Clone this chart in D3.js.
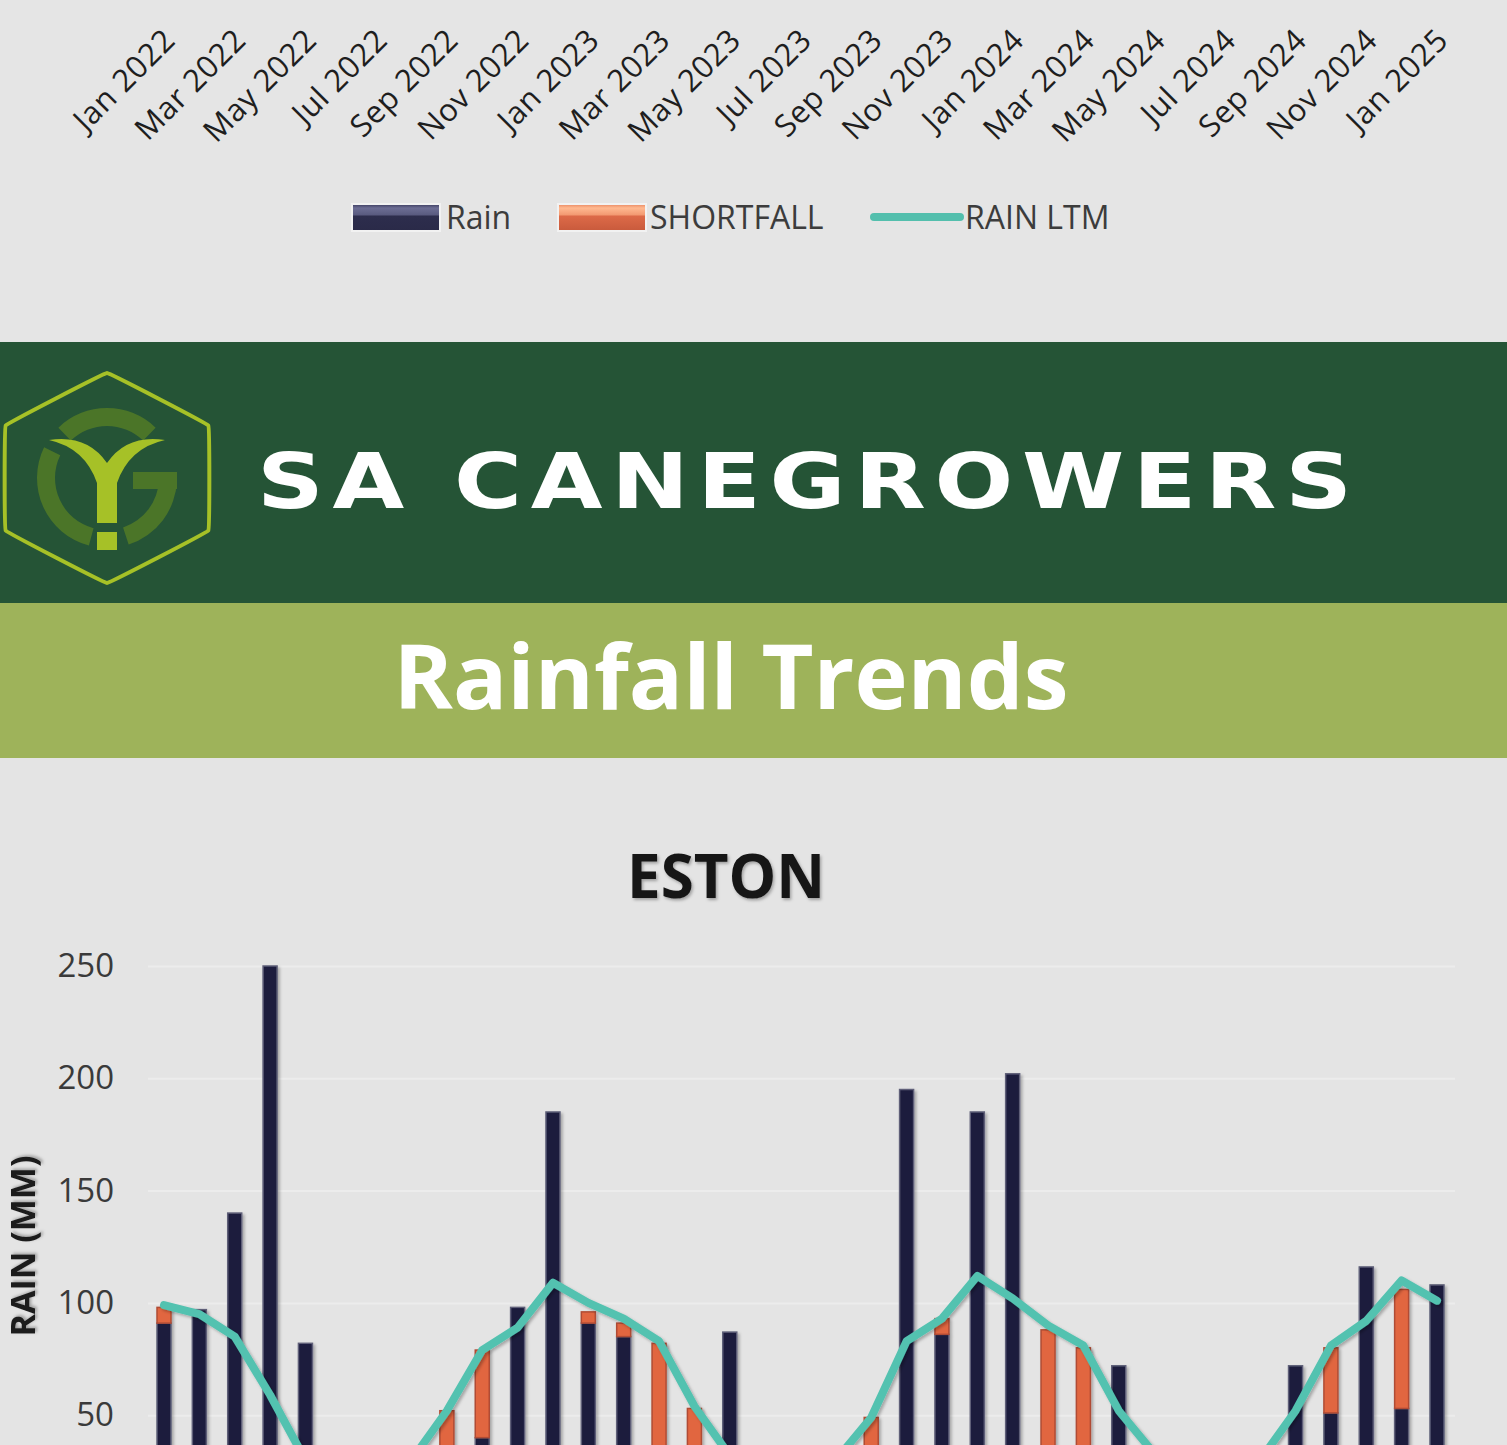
<!DOCTYPE html>
<html>
<head>
<meta charset="utf-8">
<script src="https://cdn.jsdelivr.net/npm/d3@7"></script>
<style>
    html, body { margin: 0; padding: 0; background: #e5e5e5; overflow: hidden; }
    svg { display: block; }
</style>
</head>
<body>
<div id="page"></div>
<script>
const months = [
    "Jan 2022", "Feb 2022", "Mar 2022", "Apr 2022", "May 2022", "Jun 2022", "Jul 2022", "Aug 2022", "Sep 2022", "Oct 2022", "Nov 2022", "Dec 2022",
    "Jan 2023", "Feb 2023", "Mar 2023", "Apr 2023", "May 2023", "Jun 2023", "Jul 2023", "Aug 2023", "Sep 2023", "Oct 2023", "Nov 2023", "Dec 2023",
    "Jan 2024", "Feb 2024", "Mar 2024", "Apr 2024", "May 2024", "Jun 2024", "Jul 2024", "Aug 2024", "Sep 2024", "Oct 2024", "Nov 2024", "Dec 2024",
    "Jan 2025"
];
const rain = [
    91, 97, 140, 250, 82, 18, 12, 26, 30, 40, 98, 185,
    91, 85, 30, 22, 87, 15, 20, 28, 25, 195, 86, 185,
    202, 35, 30, 72, 20, 10, 14, 24, 72, 51, 116, 53,
    108
];
const shortfall = [
    7, 0, 0, 0, 0, 0, 8, 4, 22, 39, 0, 0,
    5, 6, 52, 31, 0, 3, 0, 2, 24, 0, 7, 0,
    0, 53, 50, 0, 13, 8, 6, 6, 0, 29, 0, 53,
    0
];
const rainLtm = [
    99, 95, 85, 59, 30, 18, 20, 30, 52, 79, 89, 109,
    100, 93, 83, 54, 32, 18, 20, 30, 49, 83, 93, 112,
    102, 90, 81, 52, 33, 18, 20, 30, 52, 81, 92, 110,
    101
];
const topTickLabels = [
    "Jan 2022", "Mar 2022", "May 2022", "Jul 2022", "Sep 2022", "Nov 2022",
    "Jan 2023", "Mar 2023", "May 2023", "Jul 2023", "Sep 2023", "Nov 2023",
    "Jan 2024", "Mar 2024", "May 2024", "Jul 2024", "Sep 2024", "Nov 2024",
    "Jan 2025"
];
const yTicks = [50, 100, 150, 200, 250];
const legendItems = ["Rain", "SHORTFALL", "RAIN LTM"];

const width = 1507;
const height = 1445;

const svg = d3.select("#page")
    .append("svg")
    .attr("width", width)
    .attr("height", height)
    .attr("viewBox", `0 0 ${width} ${height}`);

const defs = svg.append("defs");

const shadow = defs.append("filter").attr("id", "shadow")
    .attr("x", "-50%").attr("y", "-10%").attr("width", "200%").attr("height", "130%");
shadow.append("feDropShadow")
    .attr("dx", 2).attr("dy", 2).attr("stdDeviation", 1.8)
    .attr("flood-color", "#000").attr("flood-opacity", 0.28);

const textShadow = defs.append("filter").attr("id", "textshadow");
textShadow.append("feDropShadow")
    .attr("dx", 1.5).attr("dy", 2).attr("stdDeviation", 1.5)
    .attr("flood-color", "#000").attr("flood-opacity", 0.3);

function bevel(id, stops) {
    const g = defs.append("linearGradient").attr("id", id)
        .attr("x1", 0).attr("y1", 0).attr("x2", 0).attr("y2", 1);
    stops.forEach(([o, c]) => g.append("stop").attr("offset", o).attr("stop-color", c));
}
bevel("rainGrad", [[0, "#3a3a5c"], [0.15, "#6c6d94"], [0.4, "#5a5b80"], [0.45, "#2d2d4d"], [1, "#2a2a48"]]);
bevel("shortGrad", [[0, "#e88660"], [0.15, "#ffb990"], [0.4, "#f39a72"], [0.45, "#dd6a48"], [1, "#c85a3c"]]);

// same horizontal scale for the cropped chart above and the ESTON chart
const x = d3.scalePoint()
    .domain(months)
    .range([164, 1437]);

// ---------- top strip: tail of the previous chart ----------
svg.append("rect")
    .attr("x", 0).attr("y", 0).attr("width", width).attr("height", 342)
    .attr("fill", "#e5e5e5");

svg.append("g")
    .selectAll("text")
    .data(topTickLabels)
    .join("text")
    .attr("transform", d => `translate(${x(d) + 13},${42}) rotate(-45)`)
    .attr("text-anchor", "end")
    .attr("font-family", "'Open Sans', sans-serif")
    .attr("font-size", 31)
    .attr("letter-spacing", 0.6)
    .attr("fill", "#1e1e1e")
    .text(d => d);

const legend = svg.append("g")
    .attr("font-family", "'Open Sans', sans-serif")
    .attr("font-size", 32)
    .attr("fill", "#3c3c3c");

legend.append("rect")
    .attr("x", 352).attr("y", 204).attr("width", 88).attr("height", 27)
    .attr("fill", "url(#rainGrad)")
    .attr("stroke", "#f2f2f2").attr("stroke-width", 2);
legend.append("rect")
    .attr("x", 558).attr("y", 204).attr("width", 88).attr("height", 27)
    .attr("fill", "url(#shortGrad)")
    .attr("stroke", "#f2f2f2").attr("stroke-width", 2);
legend.append("line")
    .attr("x1", 874).attr("x2", 960).attr("y1", 217).attr("y2", 217)
    .attr("stroke", "#53bfad").attr("stroke-width", 8)
    .attr("stroke-linecap", "round");

legend.selectAll("text.item")
    .data(legendItems)
    .join("text")
    .attr("class", "item")
    .attr("x", (d, i) => [446, 650, 965][i])
    .attr("y", 229)
    .text(d => d);

// ---------- SA CANEGROWERS banner ----------
svg.append("rect")
    .attr("x", 0).attr("y", 342).attr("width", width).attr("height", 262)
    .attr("fill", "#255436");

const logo = svg.append("g").attr("transform", "translate(107,478)");
const hex = d3.range(6).map(k => {
    const a = Math.PI / 3 * k - Math.PI / 2;
    return [117 * Math.cos(a), 105 * Math.sin(a)];
});
logo.append("path")
    .attr("d", d3.line().curve(d3.curveCardinalClosed.tension(0.92))(hex))
    .attr("fill", "none")
    .attr("stroke", "#a6c127")
    .attr("stroke-width", 4);

const ring = d3.arc().innerRadius(52).outerRadius(70);
const deg = Math.PI / 180;
[[-44, 44], [-165, -64], [92, 162]].forEach(([a0, a1]) => {
    logo.append("path")
        .attr("d", ring({startAngle: a0 * deg, endAngle: a1 * deg}))
        .attr("fill", "#4b7528");
});
logo.append("rect")
    .attr("x", 26).attr("y", -6).attr("width", 44).attr("height", 17)
    .attr("fill", "#4b7528");
logo.append("path")
    .attr("d", "M-58,-38 Q-20,-44 0,-15 Q20,-44 58,-38 Q22,-30 10,5 L-10,5 Q-22,-30 -58,-38 Z")
    .attr("fill", "#a6c127");
logo.append("rect")
    .attr("x", -10).attr("y", 3).attr("width", 20).attr("height", 42)
    .attr("fill", "#a6c127");
logo.append("rect")
    .attr("x", -10).attr("y", 54).attr("width", 20).attr("height", 18)
    .attr("fill", "#a6c127");

svg.append("text")
    .attr("transform", "translate(257,508) scale(1.22,1)")
    .attr("font-family", "'DejaVu Sans', sans-serif")
    .attr("font-weight", "bold")
    .attr("font-size", 76)
    .attr("textLength", 1095 / 1.22)
    .attr("lengthAdjust", "spacing")
    .attr("fill", "#ffffff")
    .text("SA CANEGROWERS");

// ---------- Rainfall Trends band ----------
svg.append("rect")
    .attr("x", 0).attr("y", 603).attr("width", width).attr("height", 155)
    .attr("fill", "#9eb35a");

svg.append("text")
    .attr("x", 731).attr("y", 709)
    .attr("text-anchor", "middle")
    .attr("font-family", "'Open Sans', sans-serif")
    .attr("font-weight", "bold")
    .attr("font-size", 90)
    .attr("fill", "#ffffff")
    .text("Rainfall Trends");

// ---------- ESTON chart ----------
svg.append("rect")
    .attr("x", 0).attr("y", 758).attr("width", width).attr("height", height - 758)
    .attr("fill", "#e4e4e4");

svg.append("text")
    .attr("x", 726).attr("y", 898)
    .attr("text-anchor", "middle")
    .attr("font-family", "'Open Sans', sans-serif")
    .attr("font-weight", "bold")
    .attr("font-size", 60)
    .attr("fill", "#141414")
    .attr("filter", "url(#textshadow)")
    .text("ESTON");

const y = d3.scaleLinear()
    .domain([0, 250])
    .range([1527.5, 966]);

const yAxis = g => g
    .attr("transform", "translate(148,0)")
    .call(d3.axisLeft(y).tickValues(yTicks).tickSize(-1307).tickPadding(34))
    .call(g => g.select(".domain").remove())
    .call(g => g.selectAll(".tick line").attr("stroke", "#ececec").attr("stroke-width", 2))
    .call(g => g.selectAll(".tick text")
        .attr("font-family", "'Open Sans', sans-serif")
        .attr("font-size", 33)
        .attr("fill", "#3a3a3a"));

svg.append("g").call(yAxis);

svg.append("text")
    .attr("transform", "translate(35,1246) rotate(-90)")
    .attr("text-anchor", "middle")
    .attr("font-family", "'Open Sans', sans-serif")
    .attr("font-weight", "bold")
    .attr("font-size", 34)
    .attr("fill", "#1a1a1a")
    .attr("filter", "url(#textshadow)")
    .text("RAIN (MM)");

const bars = svg.append("g").attr("filter", "url(#shadow)");

bars.selectAll("rect.rain")
    .data(months)
    .join("rect")
    .attr("class", "rain")
    .attr("x", d => x(d) - 7)
    .attr("width", 14)
    .attr("y", (d, i) => y(rain[i]))
    .attr("height", (d, i) => y(0) - y(rain[i]))
    .attr("fill", "#1b1b3d")
    .attr("stroke", "#5e5f78")
    .attr("stroke-width", 1.5);

bars.selectAll("rect.short")
    .data(months.filter((d, i) => shortfall[i] > 0))
    .join("rect")
    .attr("class", "short")
    .attr("x", d => x(d) - 7)
    .attr("width", 14)
    .attr("y", d => y(rain[months.indexOf(d)] + shortfall[months.indexOf(d)]))
    .attr("height", d => y(rain[months.indexOf(d)]) - y(rain[months.indexOf(d)] + shortfall[months.indexOf(d)]))
    .attr("fill", "#e1663f")
    .attr("stroke", "#b04c34")
    .attr("stroke-width", 1.5);

const line = d3.line()
    .x((d, i) => x(months[i]))
    .y(d => y(d));

svg.append("path")
    .datum(rainLtm)
    .attr("fill", "none")
    .attr("stroke", "#53c2b0")
    .attr("stroke-width", 8)
    .attr("stroke-linejoin", "round")
    .attr("stroke-linecap", "round")
    .attr("filter", "url(#shadow)")
    .attr("d", line);
</script>
</body>
</html>
